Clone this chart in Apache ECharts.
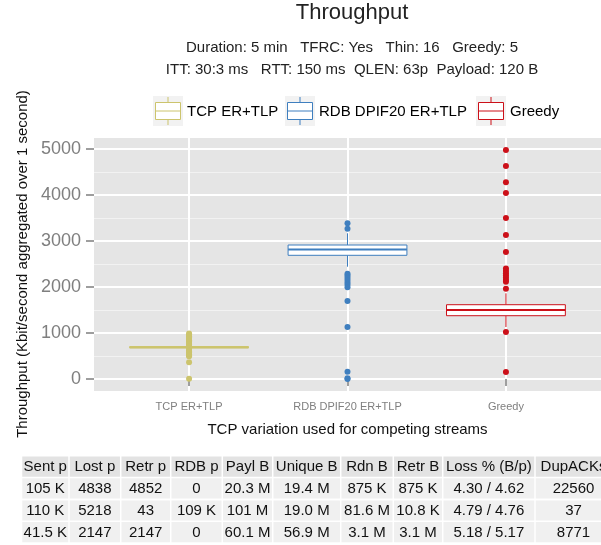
<!DOCTYPE html>
<html>
<head>
<meta charset="utf-8">
<script src="https://cdn.jsdelivr.net/npm/echarts@6/dist/echarts.min.js"></script>
<style>
  html, body { margin: 0; padding: 0; background: #fff; }
  #main { width: 601px; height: 545px; }
</style>
</head>
<body>
<div id="main"></div>
<script>
// data
var categories = ['TCP ER+TLP', 'RDB DPIF20 ER+TLP', 'Greedy'];
var colors = ['#CCC46D', '#3F7FBF', '#CC1019'];
// box stats per variation: lower whisker, Q1, median, Q3, upper whisker
var boxLow = [675, 2441, 1130];
var boxQ1 = [675, 2689, 1376];
var boxMedian = [690, 2815, 1500];
var boxQ3 = [705, 2913, 1615];
var boxHigh = [705, 3167, 1863];
var outTcp = [990, 960, 930, 900, 870, 840, 810, 780, 750, 720, 660, 630, 600, 570, 540, 510, 495, 364, 8];
var outRdb = [3385, 3267, 2290, 2250, 2200, 2150, 2100, 2050, 1995, 1696, 1130, 159, 15, 0];
var outGreedy = [4978, 4630, 4276, 4043, 3500, 3130, 2761, 2400, 2350, 2300, 2250, 2200, 2150, 2115, 1963, 1022, 152];
var xTicks = [1, 2, 3];

var titleText = 'Throughput';
var subLines = [
    'Duration: 5 min   TFRC: Yes   Thin: 16   Greedy: 5',
    'ITT: 30:3 ms   RTT: 150 ms  QLEN: 63p  Payload: 120 B'
];
var tableHeader = ['Sent p', 'Lost p', 'Retr p', 'RDB p', 'Payl B', 'Unique B', 'Rdn B', 'Retr B', 'Loss % (B/p)', 'DupACKs'];
var tableRows = [
    ['105 K', '4838', '4852', '0', '20.3 M', '19.4 M', '875 K', '875 K', '4.30 / 4.62', '22560'],
    ['110 K', '5218', '43', '109 K', '101 M', '19.0 M', '81.6 M', '10.8 K', '4.79 / 4.76', '37'],
    ['41.5 K', '2147', '2147', '0', '60.1 M', '56.9 M', '3.1 M', '3.1 M', '5.18 / 5.17', '8771']
];

var FONT = 'Liberation Sans';

// panel: 94..609 x 138..391, value 0 at y=379 and 5000 at y=149
var pxPerUnit = 230 / 5000;
var yMin = -(391 - 379) / pxPerUnit;
var yMax = (379 - 138) / pxPerUnit;

var boxData = categories.map(function (c, i) {
    return [i + 1, boxLow[i], boxQ1[i], boxMedian[i], boxQ3[i], boxHigh[i]];
});
function pts(arr, x) {
    return arr.map(function (v) { return [x, v]; });
}

var graphics = [];
// titles
graphics.push({ type: 'text', x: 352, y: 13, style: { text: titleText, fontFamily: FONT, fontSize: 22, fill: '#222', align: 'center', verticalAlign: 'middle' } });
subLines.forEach(function (s, i) {
    graphics.push({ type: 'text', x: 352, y: 48 + i * 22, style: { text: s, fontFamily: FONT, fontSize: 15, fill: '#222', align: 'center', verticalAlign: 'middle' } });
});

// legend keys
var legendX = [153, 285, 476];
categories.forEach(function (c, i) {
    var x0 = legendX[i], y0 = 96, col = colors[i];
    graphics.push({ type: 'group', children: [
        { type: 'rect', shape: { x: x0, y: y0, width: 30, height: 30 }, style: { fill: '#f2f2f2' } },
        { type: 'line', shape: { x1: x0 + 15, y1: y0 + 1, x2: x0 + 15, y2: y0 + 29 }, style: { stroke: col, lineWidth: 1 } },
        { type: 'rect', shape: { x: x0 + 2.5, y: y0 + 6.5, width: 25, height: 17 }, style: { fill: '#fff', stroke: col, lineWidth: 1 } },
        { type: 'line', shape: { x1: x0 + 2.5, y1: y0 + 15, x2: x0 + 27.5, y2: y0 + 15 }, style: { stroke: col, lineWidth: 1 } },
        { type: 'text', x: x0 + 34, y: y0 + 16, style: { text: c, fontFamily: FONT, fontSize: 15, fill: '#000', verticalAlign: 'middle' } }
    ] });
});

// stats table
var colEdges = [21.5, 69, 120.7, 170.7, 222.3, 272.7, 340.7, 393.3, 442.7, 535, 612];
var rowTops = [456.5, 478.3, 500.4, 522];
var rowH = 20.2;
[tableHeader].concat(tableRows).forEach(function (row, r) {
    row.forEach(function (cell, c) {
        var x0 = colEdges[c] + 0.75, x1 = colEdges[c + 1] - 0.75;
        graphics.push({ type: 'rect', shape: { x: x0, y: rowTops[r], width: x1 - x0, height: rowH },
            style: { fill: r === 0 ? '#e3e3e3' : '#f0f0f0' } });
        graphics.push({ type: 'text', x: (x0 + x1) / 2, y: rowTops[r] + rowH / 2 + 0.5,
            style: { text: cell, fontFamily: FONT, fontSize: 15, fill: '#111', align: 'center', verticalAlign: 'middle' } });
    });
});

var chart = echarts.init(document.getElementById('main'));
chart.setOption({
    animation: false,
    backgroundColor: '#fff',
    textStyle: { fontFamily: FONT },
    grid: [
        { left: 94, top: 138, width: 515, height: 253, show: true, backgroundColor: '#e5e5e5', borderWidth: 0 },
        { left: 94, top: 149, width: 515, height: 230, show: false }
    ],
    xAxis: [
        {
            type: 'value', gridIndex: 0, min: 0.4, max: 3.6,
            name: 'TCP variation used for competing streams',
            nameLocation: 'middle', nameGap: 31,
            nameTextStyle: { fontSize: 15, color: '#111', fontFamily: FONT },
            axisLine: { show: false },
            axisTick: { show: true, customValues: xTicks, length: 7, lineStyle: { color: '#7f7f7f', width: 1.5 } },
            axisLabel: {
                customValues: xTicks, margin: 10, fontSize: 11, color: '#7f7f7f', fontFamily: FONT,
                formatter: function (v) { return categories[Math.round(v) - 1]; }
            },
            splitLine: { show: true, lineStyle: { color: '#fff', width: 2 } }
        },
        { type: 'value', gridIndex: 1, min: 0, max: 1, show: false }
    ],
    yAxis: [
        { type: 'value', gridIndex: 0, min: yMin, max: yMax, show: false },
        {
            type: 'value', gridIndex: 1, min: 0, max: 5000, interval: 1000,
            name: 'Throughput (Kbit/second aggregated over 1 second)',
            nameLocation: 'middle', nameGap: 60,
            nameTextStyle: { fontSize: 15, color: '#111', fontFamily: FONT },
            axisLine: { show: false },
            axisTick: { show: true, length: 8, lineStyle: { color: '#7f7f7f', width: 1.5 } },
            axisLabel: { margin: 13, fontSize: 18, color: '#7f7f7f', fontFamily: FONT,
                formatter: function (v) { return String(v); } },
            splitLine: { show: true, lineStyle: { color: '#fff', width: 2 } },
            minorTick: { show: false, splitNumber: 2 },
            minorSplitLine: { show: true, lineStyle: { color: '#f2f2f2', width: 1 } }
        }
    ],
    graphic: graphics,
    series: [
        {
            type: 'custom', xAxisIndex: 0, yAxisIndex: 0, z: 2,
            encode: { x: 0, y: [1, 2, 3, 4, 5] },
            data: boxData,
            renderItem: function (params, api) {
                var x = api.value(0);
                var pLow = api.coord([x, api.value(1)]);
                var pQ1 = api.coord([x, api.value(2)]);
                var pMed = api.coord([x, api.value(3)]);
                var pQ3 = api.coord([x, api.value(4)]);
                var pHigh = api.coord([x, api.value(5)]);
                var half = api.size([0.75, 0])[0] / 2;
                var col = colors[params.dataIndex];
                return { type: 'group', children: [
                    { type: 'line', shape: { x1: pLow[0], y1: pLow[1], x2: pQ1[0], y2: pQ1[1] }, style: { stroke: col, lineWidth: 1 } },
                    { type: 'line', shape: { x1: pQ3[0], y1: pQ3[1], x2: pHigh[0], y2: pHigh[1] }, style: { stroke: col, lineWidth: 1 } },
                    { type: 'rect', shape: { x: pQ3[0] - half, y: pQ3[1], width: half * 2, height: pQ1[1] - pQ3[1] }, style: { fill: '#fff', stroke: col, lineWidth: 1 } },
                    { type: 'line', shape: { x1: pMed[0] - half, y1: pMed[1], x2: pMed[0] + half, y2: pMed[1] }, style: { stroke: col, lineWidth: 2 } }
                ] };
            }
        },
        { type: 'scatter', xAxisIndex: 0, yAxisIndex: 0, z: 3, symbolSize: 6, itemStyle: { color: colors[0], opacity: 1 }, data: pts(outTcp, 1) },
        { type: 'scatter', xAxisIndex: 0, yAxisIndex: 0, z: 3, symbolSize: 6, itemStyle: { color: colors[1], opacity: 1 }, data: pts(outRdb, 2) },
        { type: 'scatter', xAxisIndex: 0, yAxisIndex: 0, z: 3, symbolSize: 6, itemStyle: { color: colors[2], opacity: 1 }, data: pts(outGreedy, 3) }
    ]
});
</script>
</body>
</html>
